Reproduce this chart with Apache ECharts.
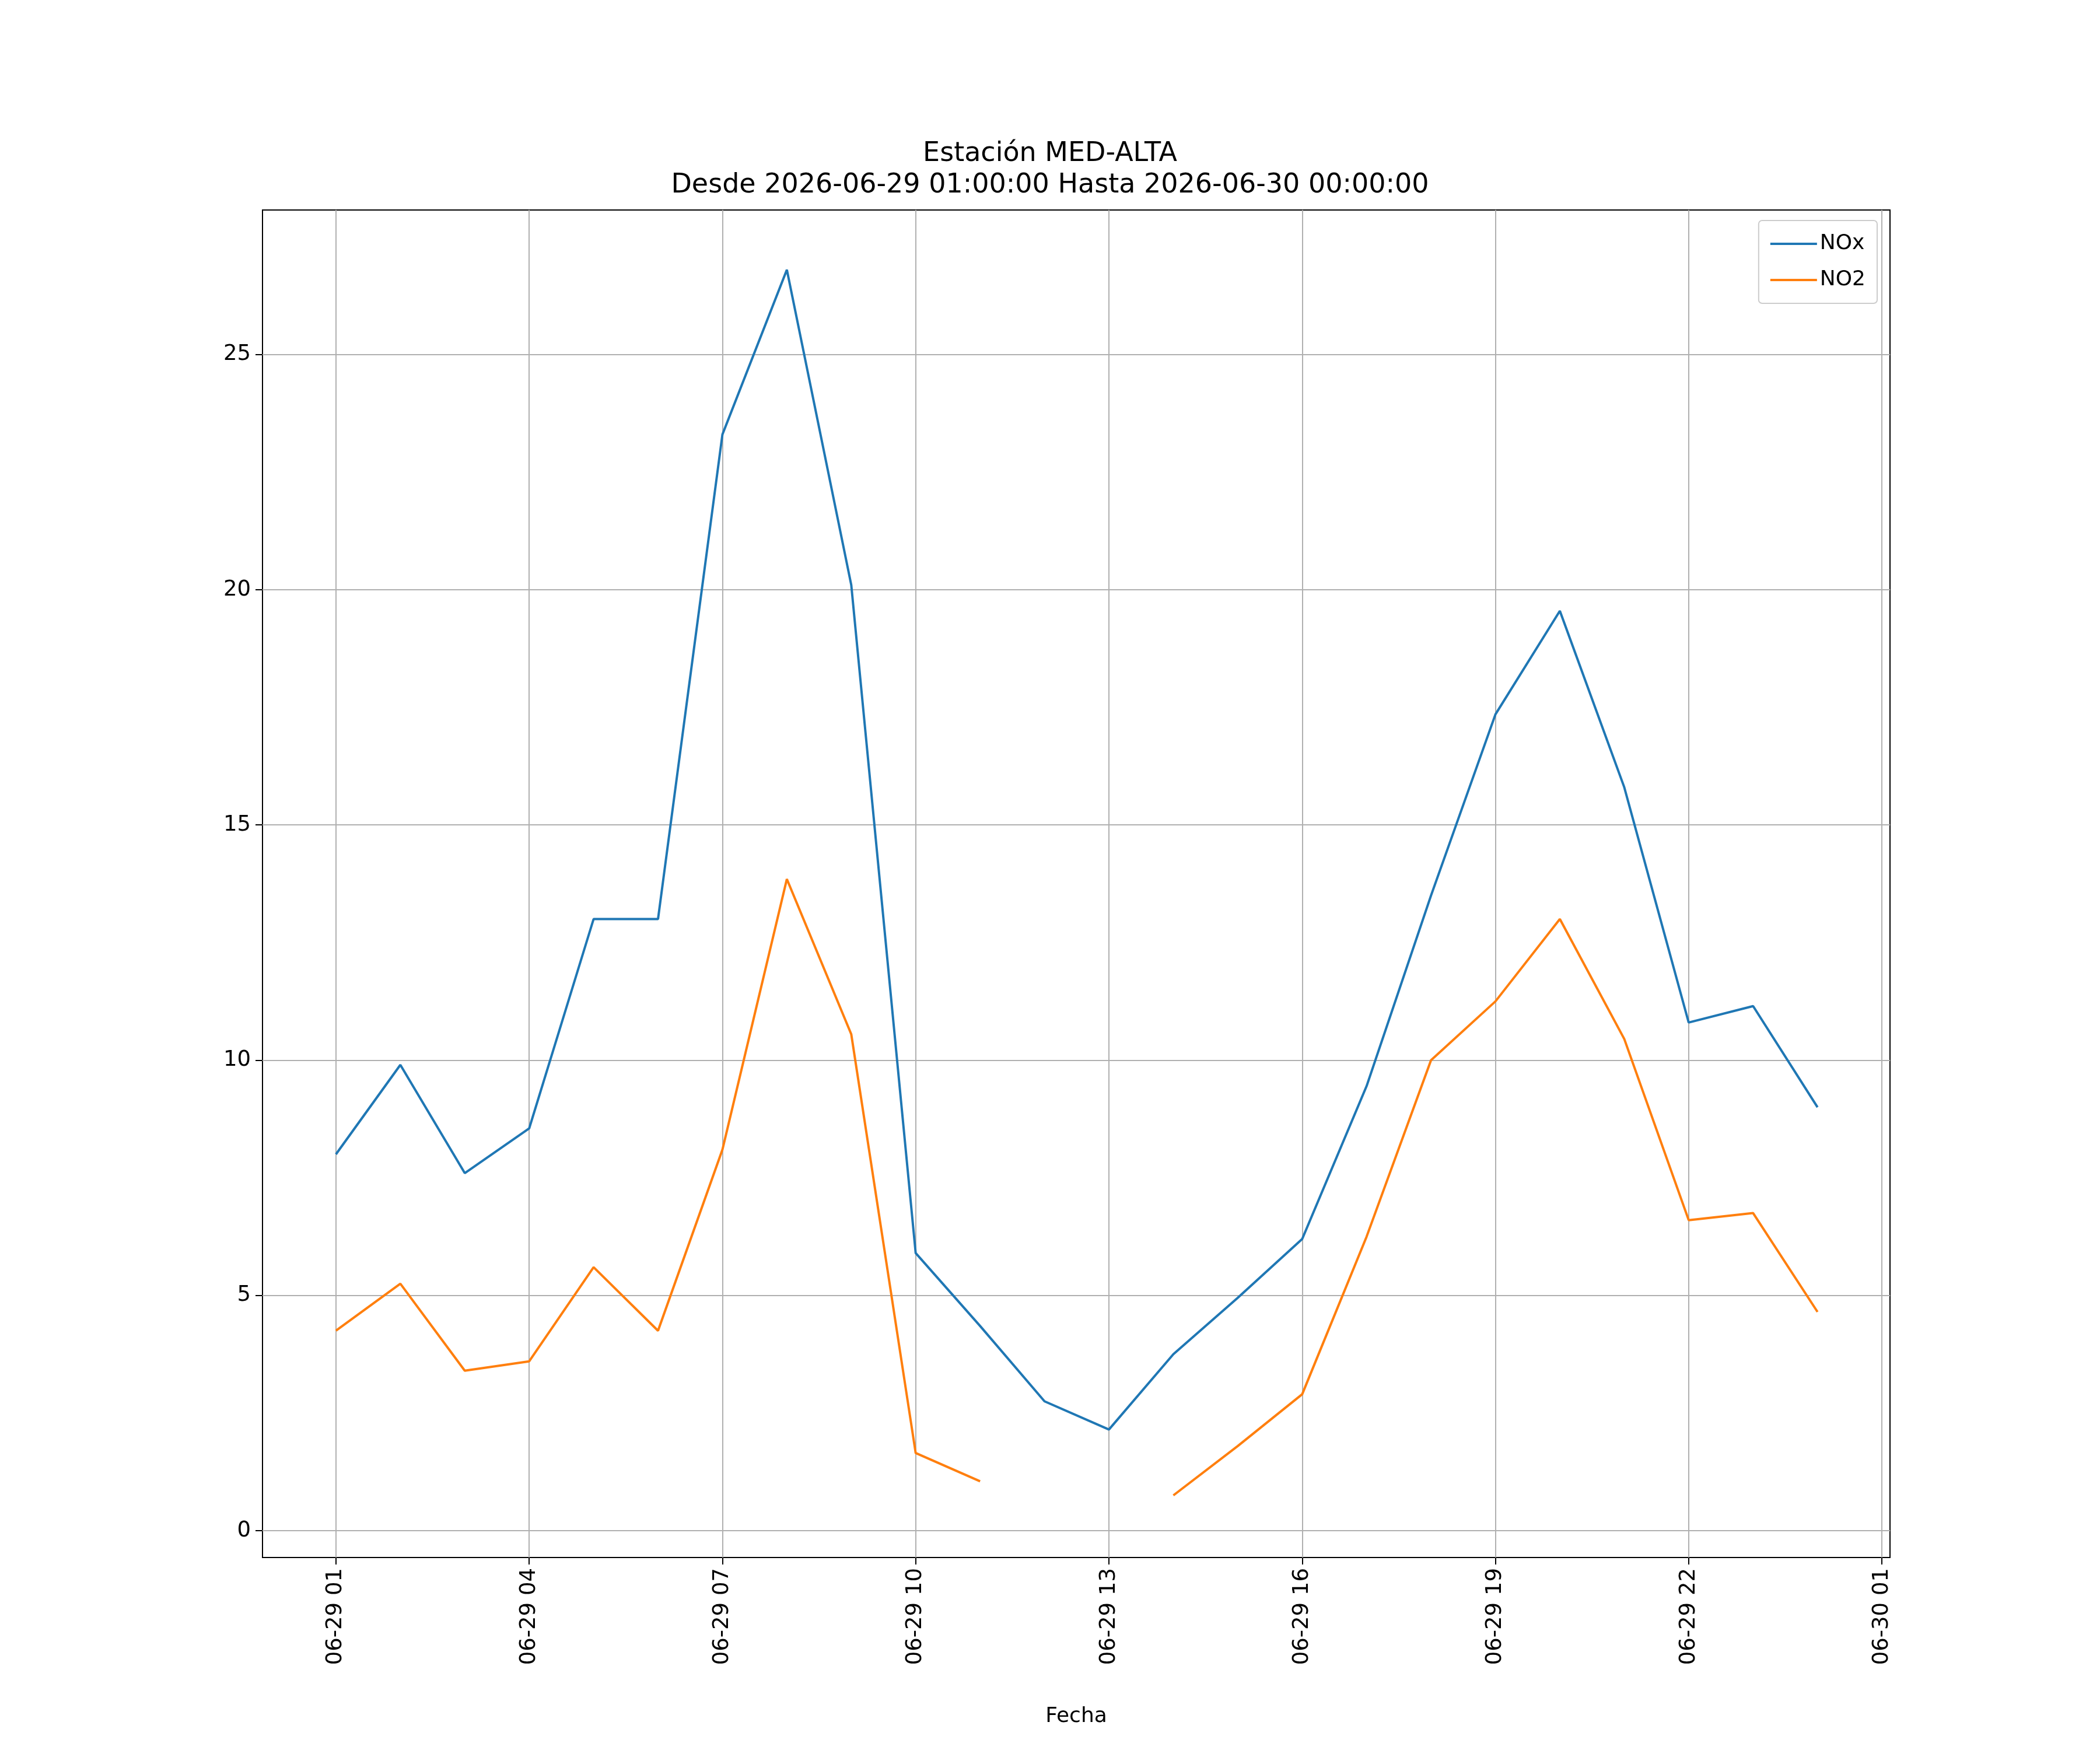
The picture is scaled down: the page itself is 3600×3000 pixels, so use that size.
<!DOCTYPE html>
<html><head><meta charset="utf-8">
<script src="https://cdn.jsdelivr.net/npm/echarts@6/dist/echarts.min.js"></script>
<style>html,body{margin:0;padding:0;background:#fff}#c{width:3600px;height:3000px}</style>
</head><body><div id="c"></div>
<script>
const hours = [1,2,3,4,5,6,7,8,9,10,11,12,13,14,15,16,17,18,19,20,21,22,23,24];
const noxValues = [8.0,9.9,7.6,8.55,13.0,13.0,23.3,26.8,20.1,5.9,4.35,2.75,2.15,3.75,4.95,6.2,9.45,13.5,17.35,19.55,15.8,10.8,11.15,9.0];
const no2Values = [4.25,5.25,3.4,3.6,5.6,4.25,8.1,13.85,10.55,1.65,1.05,null,null,0.75,1.8,2.9,6.25,10.0,11.25,13.0,10.45,6.6,6.75,4.65];
const xTicks = [1,4,7,10,13,16,19,22,25];
const yTicks = [0,5,10,15,20,25];
const pad = n => String(n).padStart(2,'0');
const fmt = h => h >= 25 ? '06-30 ' + pad(h-24) : '06-29 ' + pad(h);
const F = 'DejaVu Sans';
const chart = echarts.init(document.getElementById('c'));
chart.setOption({
  animation:false,
  backgroundColor:'#fff',
  title:{text:'Estación MED-ALTA\nDesde 2026-06-29 01:00:00 Hasta 2026-06-30 00:00:00',left:'center',top:232,
    textStyle:{fontFamily:F,fontSize:46,fontWeight:'normal',color:'#000',lineHeight:54}},
  legend:{right:382,top:378,orient:'vertical',itemWidth:80,itemHeight:4,itemGap:26,
    borderColor:'#ccc',borderWidth:2,borderRadius:6,padding:[22,20,22,20],backgroundColor:'#fff',
    textStyle:{fontFamily:F,fontSize:36,color:'#000'},icon:'rect',
    data:['NOx','NO2']},
  grid:{left:450,right:360,top:360,bottom:330,show:true,borderColor:'#000',borderWidth:2,containLabel:false},
  xAxis:{type:'value',min:-0.14,max:25.125,name:'Fecha',nameLocation:'middle',nameGap:255,
    nameTextStyle:{fontFamily:F,fontSize:36,color:'#000'},
    axisLine:{show:false,onZero:false},
    axisTick:{show:true,length:12,inside:false,lineStyle:{color:'#000',width:2},customValues:xTicks},
    axisLabel:{customValues:xTicks,rotate:90,formatter:v=>fmt(v),fontFamily:F,fontSize:37,color:'#000',margin:18},
    splitLine:{show:true,lineStyle:{color:'#b0b0b0',width:2}}},
  yAxis:{type:'value',min:-0.57,max:28.07,
    axisLine:{show:false,onZero:false},
    axisTick:{show:true,length:12,inside:false,lineStyle:{color:'#000',width:2},customValues:yTicks},
    axisLabel:{customValues:yTicks,fontFamily:F,fontSize:37,color:'#000',margin:20},
    splitLine:{show:true,lineStyle:{color:'#b0b0b0',width:2}}},
  series:[
    {name:'NOx',type:'line',showSymbol:false,data:hours.map((h,i)=>[h,noxValues[i]]),lineStyle:{color:'#1f77b4',width:4},itemStyle:{color:'#1f77b4'}},
    {name:'NO2',type:'line',showSymbol:false,connectNulls:false,data:hours.map((h,i)=>[h,no2Values[i]]),lineStyle:{color:'#ff7f0e',width:4},itemStyle:{color:'#ff7f0e'}}
  ]
});
</script></body></html>
